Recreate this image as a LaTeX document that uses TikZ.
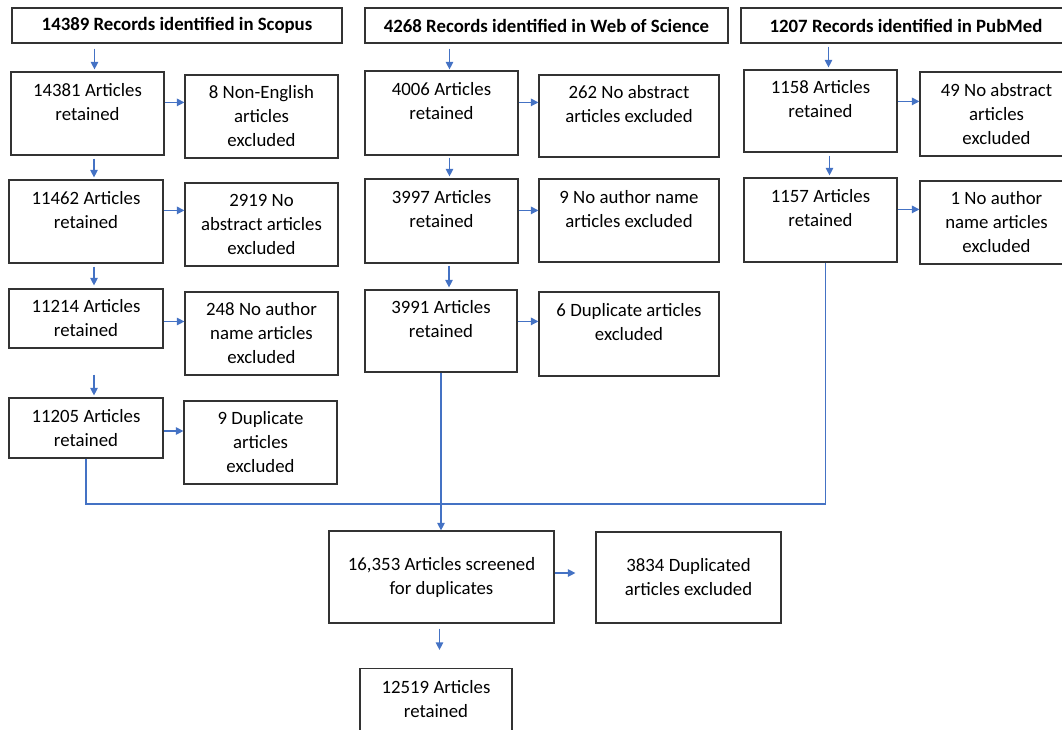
\documentclass[tikz,border=0pt]{standalone}
\usepackage{fontspec}
\setmainfont{Carlito}
\usepackage{xcolor}
\usetikzlibrary{arrows.meta}
\definecolor{flowblue}{HTML}{4472C4}

\begin{document}
\begin{tikzpicture}[x=1pt,y=-1pt,
  box/.style={draw=black!80, line width=1.2pt, align=center, inner sep=0pt,
    font=\fontsize{18.8}{24}\selectfont},
  head/.style={box, font=\fontsize{18.8}{24}\selectfont\bfseries, minimum height=35pt},
  flow/.style={draw=flowblue, line width=1.2pt, -{Triangle[length=7.5pt,width=7.5pt]}},
  link/.style={draw=flowblue, line width=1.2pt}]
\useasboundingbox (0,0) rectangle (1062,729);

% Sources
\node[head, minimum width=330pt] (hs) at (177,25.5) {14389 Records identified in Scopus};
\node[head, minimum width=363pt] (hw) at (546.5,25.5) {4268 Records identified in Web of Science};
\node[head, minimum width=330pt] (hp) at (906,25.5) {1207 Records identified in PubMed};

% Scopus
\node[box, minimum width=153pt, minimum height=83pt] (a1) at (87.5,113.5) {14381 Articles\\retained\\~};
\node[box, minimum width=153pt, minimum height=83pt] (e1) at (261.5,116.5) {8 Non-English\\articles\\excluded};
\node[box, minimum width=154pt, minimum height=83pt] (a2) at (86,221.5) {11462 Articles\\retained\\~};
\node[box, minimum width=153pt, minimum height=83pt] (e2) at (261.5,224.5) {2919 No\\abstract articles\\excluded};
\node[box, minimum width=154pt, minimum height=59pt] (a3) at (86,318.5) {11214 Articles\\retained};
\node[box, minimum width=153pt, minimum height=83pt] (e3) at (261.5,333.5) {248 No author\\name articles\\excluded};
\node[box, minimum width=154pt, minimum height=60pt] (a4) at (86,428) {11205 Articles\\retained};
\node[box, minimum width=153pt, minimum height=83pt] (e4) at (260.5,442.5) {9 Duplicate\\articles\\excluded};

% Web of Science
\node[box, minimum width=153pt, minimum height=84pt] (w1) at (441.5,113) {4006 Articles\\retained\\~};
\node[box, minimum width=180pt, minimum height=82pt] (we1) at (629,116) {262 No abstract\\articles excluded\\~};
\node[box, minimum width=153pt, minimum height=84pt] (w2) at (441.5,221) {3997 Articles\\retained\\~};
\node[box, minimum width=180pt, minimum height=83pt] (we2) at (629,220.5) {9 No author name\\articles excluded\\~};
\node[box, minimum width=152pt, minimum height=82pt] (w3) at (441,331) {3991 Articles\\retained\\~};
\node[box, minimum width=180pt, minimum height=84pt] (we3) at (629,334) {6 Duplicate articles\\excluded\\~};

% PubMed
\node[box, minimum width=153pt, minimum height=82pt] (p1) at (820.5,111) {1158 Articles\\retained\\~};
\node[box, minimum width=153pt, minimum height=84pt] (pe1) at (996.5,114) {49 No abstract\\articles\\excluded};
\node[box, minimum width=153pt, minimum height=84pt] (p2) at (820.5,220) {1157 Articles\\retained\\~};
\node[box, minimum width=153pt, minimum height=83pt] (pe2) at (996.5,222.5) {1 No author\\name articles\\excluded};

% Merged
\node[box, minimum width=225pt, minimum height=92pt] (s) at (441.5,577) {16,353 Articles screened\\for duplicates};
\node[box, minimum width=185pt, minimum height=91pt] (d) at (688.5,577.5) {3834 Duplicated\\articles excluded};
\node[box, minimum width=152pt, minimum height=62pt] (r) at (436,699.5) {12519 Articles\\retained};
\coordinate (join) at (441,504);

% down arrows
\draw[flow] ([xshift=7pt,yshift=-5pt]a1.north |- hs.south) -- ([xshift=7pt,yshift=2pt]a1.north);
\draw[flow] ([xshift=8pt,yshift=-3pt]a2.north |- a1.south) -- ([xshift=8pt,yshift=2pt]a2.north);
\draw[flow] ([xshift=8pt,yshift=-3pt]a3.north |- a2.south) -- ([xshift=8pt,yshift=3pt]a3.north);
\draw[flow] ([xshift=8pt,yshift=-26pt]a4.north |- a3.south) -- ([xshift=8pt,yshift=2pt]a4.north);
\draw[flow] ([xshift=8pt,yshift=-5pt]w1.north |- hw.south) -- ([xshift=8pt,yshift=1pt]w1.north);
\draw[flow] ([xshift=8pt,yshift=-2pt]w2.north |- w1.south) -- ([xshift=8pt,yshift=2pt]w2.north);
\draw[flow] ([xshift=8pt,yshift=-2pt]w3.north |- w2.south) -- ([xshift=8pt,yshift=2pt]w3.north);
\draw[flow] ([xshift=8pt,yshift=-3pt]p1.north |- hp.south) -- ([xshift=8pt,yshift=2pt]p1.north);
\draw[flow] ([xshift=9pt,yshift=-3pt]p2.north |- p1.south) -- ([xshift=9pt,yshift=2pt]p2.north);

% exclusion arrows
\draw[flow] ([yshift=-31pt]a1.north east) -- ([yshift=-31pt]a1.north east -| e1.west);
\draw[flow] ([yshift=-31pt]a2.north east) -- ([yshift=-31pt]a2.north east -| e2.west);
\draw[flow] ([yshift=-3pt]a3.east) -- ([yshift=-3pt]a3.east -| e3.west);
\draw[flow] ([yshift=-3pt]a4.east) -- ([yshift=-3pt]a4.east -| e4.west);
\draw[flow] ([yshift=-32pt]w1.north east) -- ([yshift=-32pt]w1.north east -| we1.west);
\draw[flow] ([yshift=-32pt]w2.north east) -- ([yshift=-32pt]w2.north east -| we2.west);
\draw[flow] ([yshift=-32pt]w3.north east) -- ([yshift=-32pt]w3.north east -| we3.west);
\draw[flow] ([yshift=-32pt]p1.north east) -- ([yshift=-32pt]p1.north east -| pe1.west);
\draw[flow] ([yshift=-32pt]p2.north east) -- ([yshift=-32pt]p2.north east -| pe2.west);

% merge
\draw[link] (a4.south) |- (join) -| ([xshift=5pt]p2.south);
\draw[flow] (w3.south) -- (w3.south |- s.north);
\draw[flow] ([yshift=4pt]s.east) -- ([xshift=-20pt,yshift=4pt]s.east -| d.west);
\draw[flow] ([xshift=-2pt,yshift=-5pt]s.south) -- ([xshift=-2pt,yshift=18pt]s.south |- r.north);
\end{tikzpicture}
\end{document}
